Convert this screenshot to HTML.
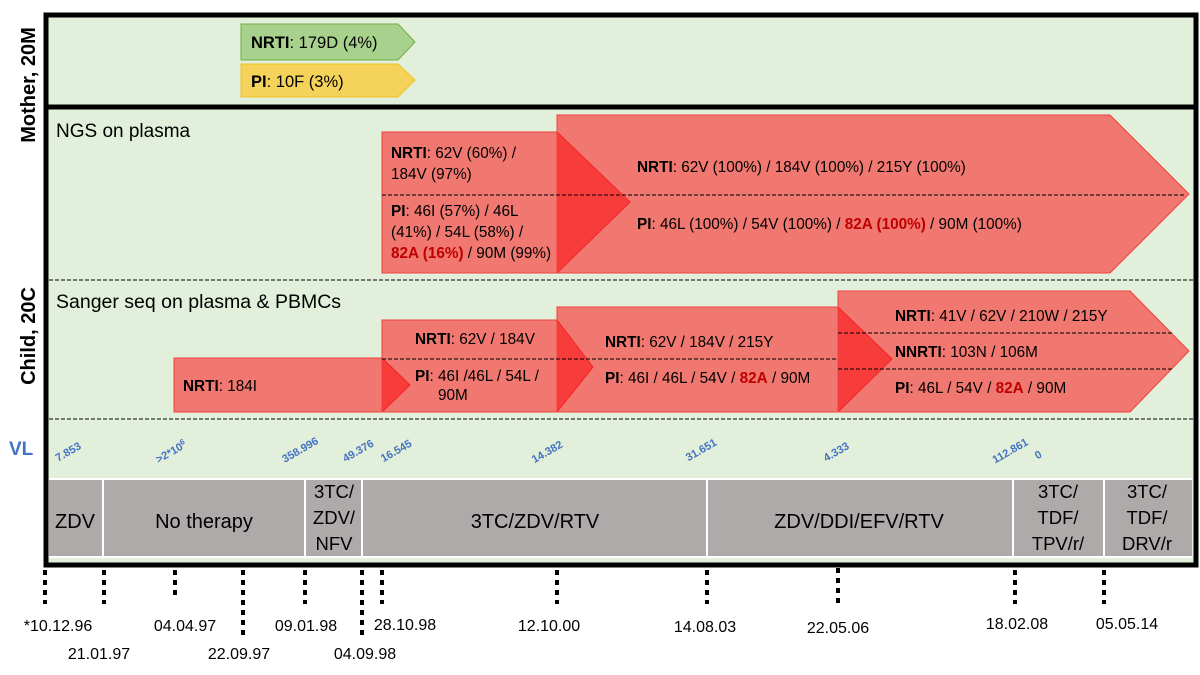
<!DOCTYPE html>
<html><head><meta charset="utf-8"><style>
html,body{margin:0;padding:0;background:#fff}
svg{display:block}
text{font-family:"Liberation Sans",sans-serif}
</style></head><body>
<svg width="1200" height="675" viewBox="0 0 1200 675">
<rect x="46" y="15" width="1150" height="550" fill="#e2efda" stroke="#000" stroke-width="5"/>
<line x1="46" y1="107" x2="1196" y2="107" stroke="#000" stroke-width="5"/>
<line x1="49" y1="280" x2="1193" y2="280" stroke="#000" stroke-width="1" stroke-dasharray="4,2"/>
<line x1="49" y1="419" x2="1193" y2="419" stroke="#000" stroke-width="1" stroke-dasharray="4,2"/>

<text transform="translate(35,85) rotate(-90)" text-anchor="middle" font-size="20" font-weight="bold">Mother, 20M</text>
<text transform="translate(35,336) rotate(-90)" text-anchor="middle" font-size="20" font-weight="bold">Child, 20C</text>

<polygon points="241,24 398,24 415,42 398,60 241,60" fill="#a9d18e" stroke="#70ad47" stroke-width="1"/>
<text x="251" y="48" font-size="16.5"><tspan font-weight="bold">NRTI</tspan>: 179D (4%)</text>
<polygon points="241,64 398,64 415,80 398,97 241,97" fill="#f5d35a" stroke="#f0c020" stroke-width="1"/>
<text x="251" y="87" font-size="16.5"><tspan font-weight="bold">PI</tspan>: 10F (3%)</text>

<text x="56" y="137" font-size="19">NGS on plasma</text>
<text x="56" y="308" font-size="19.5">Sanger seq on plasma &amp; PBMCs</text>

<g fill="rgb(254,1,6)" fill-opacity="0.5" stroke="#f04040" stroke-width="1">
<polygon points="382,132 557,132 630,202 557,273 382,273"/>
<polygon points="557,115 1110,115 1189,194 1110,273 557,273"/>
<polygon points="174,358 382,358 410,385 382,412 174,412"/>
<polygon points="382,320 557,320 593,367 557,412 382,412"/>
<polygon points="557,307 838,307 892,359 838,412 557,412"/>
<polygon points="838,291 1130,291 1189,351 1130,412 838,412"/>
</g>
<g stroke="#000" stroke-width="1" stroke-dasharray="4,2">
<line x1="382" y1="195" x2="1186" y2="195"/>
<line x1="382" y1="359" x2="838" y2="359"/>
<line x1="838" y1="333" x2="1173" y2="333"/>
<line x1="838" y1="369" x2="1173" y2="369"/>
</g>

<g font-size="15.3" fill="#000">
<text x="391" y="158"><tspan font-weight="bold">NRTI</tspan>: 62V (60%) /</text>
<text x="391" y="179">184V (97%)</text>
<text x="391" y="216"><tspan font-weight="bold">PI</tspan>: 46I (57%) / 46L</text>
<text x="391" y="237">(41%) / 54L (58%) /</text>
<text x="391" y="258"><tspan font-weight="bold" fill="#c00000">82A (16%)</tspan> / 90M (99%)</text>
<text x="637" y="172"><tspan font-weight="bold">NRTI</tspan>: 62V (100%) / 184V (100%) / 215Y (100%)</text>
<text x="637" y="229"><tspan font-weight="bold">PI</tspan>: 46L (100%) / 54V (100%) / <tspan font-weight="bold" fill="#c00000">82A (100%)</tspan> / 90M (100%)</text>
<text x="183" y="391"><tspan font-weight="bold">NRTI</tspan>: 184I</text>
<text x="415" y="344"><tspan font-weight="bold">NRTI</tspan>: 62V / 184V</text>
<text x="415" y="381"><tspan font-weight="bold">PI</tspan>: 46I /46L / 54L /</text>
<text x="438" y="400">90M</text>
<text x="605" y="347"><tspan font-weight="bold">NRTI</tspan>: 62V / 184V / 215Y</text>
<text x="605" y="383"><tspan font-weight="bold">PI</tspan>: 46I / 46L / 54V / <tspan font-weight="bold" fill="#c00000">82A</tspan> / 90M</text>
<text x="895" y="321"><tspan font-weight="bold">NRTI</tspan>: 41V / 62V / 210W / 215Y</text>
<text x="895" y="357"><tspan font-weight="bold">NNRTI</tspan>: 103N / 106M</text>
<text x="895" y="393"><tspan font-weight="bold">PI</tspan>: 46L / 54V / <tspan font-weight="bold" fill="#c00000">82A</tspan> / 90M</text>
</g>

<text x="9" y="455" font-size="19" font-weight="bold" fill="#4472c4">VL</text>
<g font-size="11" font-weight="bold" fill="#4472c4" text-anchor="middle">
<text transform="translate(70,455) rotate(-30)">7.853</text>
<text transform="translate(173,455) rotate(-30)">&gt;2*10<tspan dy="-4" font-size="8">6</tspan></text>
<text transform="translate(302,453) rotate(-30)">358.996</text>
<text transform="translate(360,454) rotate(-30)">49.376</text>
<text transform="translate(398,454) rotate(-30)">16.545</text>
<text transform="translate(549,455) rotate(-30)">14.382</text>
<text transform="translate(703,453) rotate(-30)">31.651</text>
<text transform="translate(838,455) rotate(-30)">4.333</text>
<text transform="translate(1012,454) rotate(-30)">112.861</text>
<text transform="translate(1040,458) rotate(-30)">0</text>
</g>

<rect x="49" y="479" width="1143" height="78" fill="#aeaaaa"/>
<g stroke="#fff" stroke-width="2">
<line x1="49" y1="479" x2="1192" y2="479"/><line x1="49" y1="557" x2="1192" y2="557"/>
<line x1="103" y1="479" x2="103" y2="557"/><line x1="305" y1="479" x2="305" y2="557"/>
<line x1="362" y1="479" x2="362" y2="557"/><line x1="707" y1="479" x2="707" y2="557"/>
<line x1="1013" y1="479" x2="1013" y2="557"/><line x1="1104" y1="479" x2="1104" y2="557"/>
</g>
<g font-size="20" text-anchor="middle" fill="#000">
<text x="75" y="528">ZDV</text>
<text x="204" y="528">No therapy</text>
<text x="535" y="528">3TC/ZDV/RTV</text>
<text x="859" y="528">ZDV/DDI/EFV/RTV</text>
</g>
<g font-size="18.5" text-anchor="middle" fill="#000">
<text x="334" y="498">3TC/</text><text x="334" y="524">ZDV/</text><text x="334" y="550">NFV</text>
<text x="1058" y="498">3TC/</text><text x="1058" y="524">TDF/</text><text x="1058" y="550">TPV/r/</text>
<text x="1147" y="498">3TC/</text><text x="1147" y="524">TDF/</text><text x="1147" y="550">DRV/r</text>
</g>

<g stroke="#000" stroke-width="4" stroke-dasharray="5,5">
<line x1="45" y1="570" x2="45" y2="604"/>
<line x1="104" y1="570" x2="104" y2="604"/>
<line x1="175" y1="570" x2="175" y2="596"/>
<line x1="243" y1="570" x2="243" y2="638"/>
<line x1="305" y1="570" x2="305" y2="604"/>
<line x1="362" y1="570" x2="362" y2="638"/>
<line x1="382" y1="570" x2="382" y2="604"/>
<line x1="557" y1="570" x2="557" y2="604"/>
<line x1="707" y1="570" x2="707" y2="604"/>
<line x1="838" y1="568" x2="838" y2="604"/>
<line x1="1015" y1="570" x2="1015" y2="604"/>
<line x1="1104" y1="570" x2="1104" y2="604"/>
</g>
<g font-size="16" text-anchor="middle" fill="#000">
<text x="58" y="631">*10.12.96</text>
<text x="99" y="659">21.01.97</text>
<text x="185" y="631">04.04.97</text>
<text x="239" y="659">22.09.97</text>
<text x="306" y="631">09.01.98</text>
<text x="365" y="659">04.09.98</text>
<text x="405" y="630">28.10.98</text>
<text x="549" y="631">12.10.00</text>
<text x="705" y="632">14.08.03</text>
<text x="838" y="633">22.05.06</text>
<text x="1017" y="629">18.02.08</text>
<text x="1127" y="629">05.05.14</text>
</g>
</svg>
</body></html>
